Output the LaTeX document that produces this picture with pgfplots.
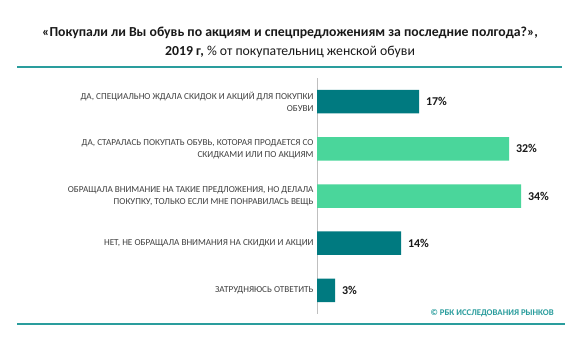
\documentclass[border=0pt]{standalone}
\usepackage{pgfplots}
\pgfplotsset{compat=1.18}
\usepackage{fontspec}
\setmainfont{Carlito}
\definecolor{darkteal}{HTML}{007A80}
\definecolor{lightgreen}{HTML}{4AD69B}
\definecolor{lineteal}{HTML}{2A9D9D}
\definecolor{labelgray}{HTML}{404040}
\begin{document}
\begin{tikzpicture}[x=1bp,y=1bp]
\path[use as bounding box, fill=white] (0,0) rectangle (578,342);
\draw[lineteal, line width=1.5bp] (17,275) -- (562,275);
\draw[lineteal, line width=1.5bp] (17,18) -- (565,18);
\node[font=\fontsize{13.8}{16}\selectfont\bfseries, text=black!90] at (290,309) {«Покупали ли Вы обувь по акциям и спецпредложениям за последние полгода?»,};
\node[font=\fontsize{13.8}{16}\selectfont, text=black!90] at (290,290) {\textbf{2019 г,} \% от покупательниц женской обуви};
\node[font=\fontsize{8.8}{10}\selectfont\bfseries, text=lineteal, anchor=east, inner sep=0pt] at (554,29) {© РБК ИССЛЕДОВАНИЯ РЫНКОВ};
\begin{axis}[
  at={(317bp,28bp)}, anchor=south west,
  scale only axis, width=240bp, height=236bp,
  xbar, bar width=23.5bp, bar shift=0pt,
  xmin=0, xmax=40, ymin=-0.5, ymax=4.5, y dir=reverse,
  axis x line=none, axis y line*=left,
  y axis line style={draw=black!25, line width=0.8bp},
  ytick={0,1,2,3,4},
  yticklabels={{ДА, СПЕЦИАЛЬНО ЖДАЛА СКИДОК И АКЦИЙ ДЛЯ ПОКУПКИ\\ОБУВИ},
               {ДА, СТАРАЛАСЬ ПОКУПАТЬ ОБУВЬ, КОТОРАЯ ПРОДАЕТСЯ СО\\СКИДКАМИ ИЛИ ПО АКЦИЯМ},
               {ОБРАЩАЛА ВНИМАНИЕ НА ТАКИЕ ПРЕДЛОЖЕНИЯ, НО ДЕЛАЛА\\ПОКУПКУ, ТОЛЬКО ЕСЛИ МНЕ ПОНРАВИЛАСЬ ВЕЩЬ},
               {НЕТ, НЕ ОБРАЩАЛА ВНИМАНИЯ НА СКИДКИ И АКЦИИ},
               {ЗАТРУДНЯЮСЬ ОТВЕТИТЬ}},
  major tick length=0pt,
  yticklabel style={align=right, font=\fontsize{9.2}{12}\selectfont, text=labelgray, xshift=0bp},
  /pgf/number format/assume math mode=true,
  nodes near coords={\pgfmathprintnumber{\pgfplotspointmeta}\%},
  nodes near coords style={font=\fontsize{12}{14}\selectfont\bfseries, text=black!90, anchor=west, xshift=3.5bp},
  clip=false,
]
\addplot[draw=none, fill=darkteal] coordinates {(17,0) (14,3) (3,4)};
\addplot[draw=none, fill=lightgreen] coordinates {(32,1) (34,2)};
\end{axis}
\end{tikzpicture}
\end{document}
